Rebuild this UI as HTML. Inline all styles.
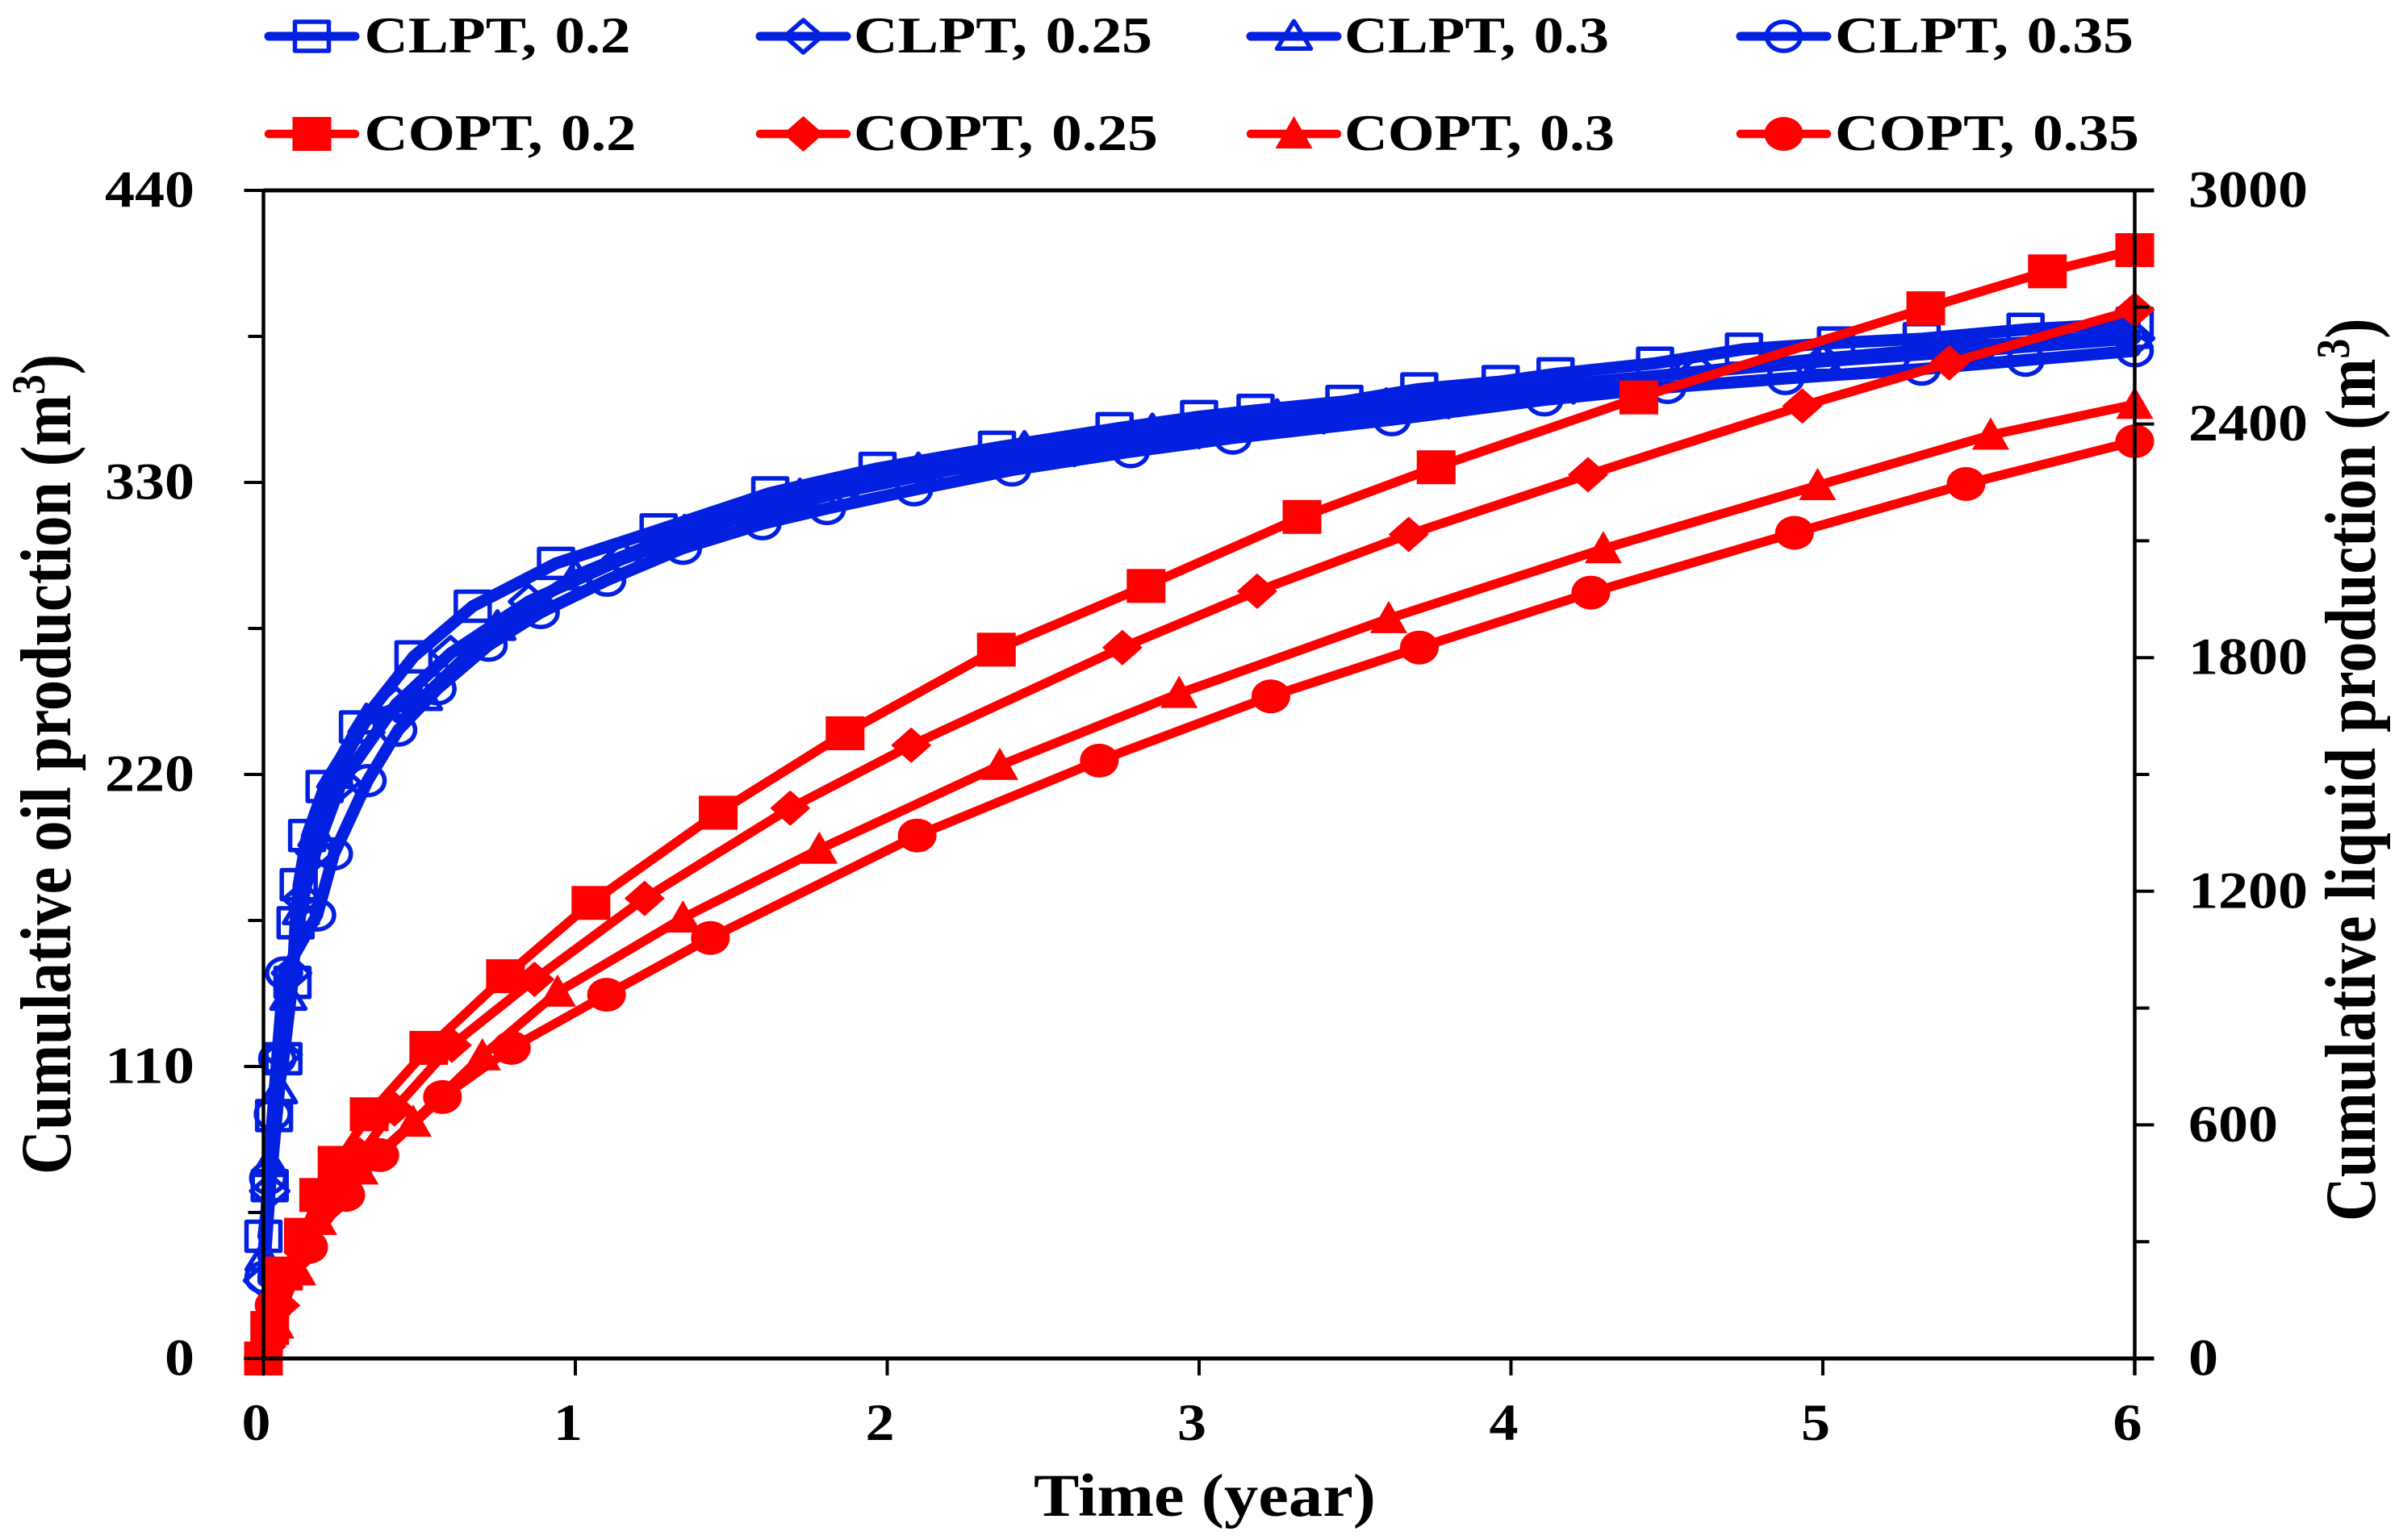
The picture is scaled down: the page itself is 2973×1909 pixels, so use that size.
<!DOCTYPE html>
<html lang="en">
<head>
<meta charset="utf-8">
<title>Cumulative production chart</title>
<style>
html,body{margin:0;padding:0;background:#fff;}
svg{display:block;}
text{font-family:"Liberation Serif",serif;font-weight:bold;fill:#000;}
#legend-layer text{word-spacing:3px;}
</style>
</head>
<body>
<svg id="chart" xmlns="http://www.w3.org/2000/svg" width="2973" height="1909" viewBox="0 0 2973 1909">
  <rect x="0" y="0" width="2973" height="1909" fill="#fff"/>
  <g id="series-layer"></g>
  <g id="axis-layer"></g>
  <g id="legend-layer">
    <text x="451.5" y="65" font-size="63" textLength="330" lengthAdjust="spacingAndGlyphs">CLPT, 0.2</text>
    <text x="1058" y="65" font-size="63" textLength="370" lengthAdjust="spacingAndGlyphs">CLPT, 0.25</text>
    <text x="1666" y="65" font-size="63" textLength="328" lengthAdjust="spacingAndGlyphs">CLPT, 0.3</text>
    <text x="2274" y="65" font-size="63" textLength="370" lengthAdjust="spacingAndGlyphs">CLPT, 0.35</text>
    <text x="451.5" y="186" font-size="63" textLength="337" lengthAdjust="spacingAndGlyphs">COPT, 0.2</text>
    <text x="1058" y="186" font-size="63" textLength="377" lengthAdjust="spacingAndGlyphs">COPT, 0.25</text>
    <text x="1666" y="186" font-size="63" textLength="335" lengthAdjust="spacingAndGlyphs">COPT, 0.3</text>
    <text x="2274" y="186" font-size="63" textLength="377" lengthAdjust="spacingAndGlyphs">COPT, 0.35</text>
  </g>
  <text x="1281" y="1879" font-size="75" textLength="424" lengthAdjust="spacingAndGlyphs">Time (year)</text>
  <text transform="translate(87,1456) rotate(-90) scale(0.857,1)" font-size="89">Cumulative oil production (m<tspan font-size="58" dy="-32">3</tspan><tspan dy="32">)</tspan></text>
  <text transform="translate(2943,1514) rotate(-90) scale(0.851,1)" font-size="89">Cumulative liquid production (m<tspan font-size="58" dy="-32">3</tspan><tspan dy="32">)</tspan></text>
</svg>
<script>
// ---- tick labels ----
const xTickLabels = ["0", "1", "2", "3", "4", "5", "6"];
const leftTickLabels = ["0", "110", "220", "330", "440"];
const rightTickLabels = ["0", "600", "1200", "1800", "2400", "3000"];
const leftMinorTicks = [55, 165, 275, 385];
const rightMinorTicks = [300, 900, 1500, 2100, 2700];

// ---- cumulative liquid production (right axis) ----
const clpt020Years = [0, 0.02, 0.034, 0.064, 0.093, 0.103, 0.113, 0.14, 0.196, 0.303, 0.481, 0.671, 0.938, 1.267, 1.625, 1.969, 2.352, 2.729, 3.0, 3.181, 3.466, 3.706, 3.967, 4.143, 4.462, 4.747, 5.042, 5.317, 5.65, 6];
const clpt020Values = [314, 444, 624, 770, 966, 1119, 1217, 1343, 1469, 1622, 1802, 1932, 2042, 2128, 2223, 2286, 2340, 2388, 2419, 2435, 2458, 2490, 2509, 2529, 2556, 2592, 2608, 2619, 2643, 2659];
const clpt025Years = [0, 0.02, 0.06, 0.09, 0.125, 0.167, 0.25, 0.425, 0.6, 0.85, 1.15, 1.5, 1.85, 2.2, 2.6, 3.0, 3.4, 3.8, 4.2, 4.6, 5.0, 5.5, 6];
const clpt025Values = [200, 430, 780, 990, 1180, 1300, 1480, 1680, 1811, 1944, 2053, 2152, 2225, 2282, 2336, 2382, 2420, 2459, 2497, 2534, 2561, 2589, 2620];
const clpt030Years = [0, 0.02, 0.05, 0.08, 0.12, 0.17, 0.23, 0.33, 0.515, 0.75, 1.0, 1.35, 1.72, 2.1, 2.44, 2.85, 3.25, 3.6, 4.13, 4.55, 5.0, 5.45, 6];
const clpt030Values = [260, 503, 690, 930, 1150, 1350, 1500, 1640, 1700, 1880, 2010, 2125, 2218, 2285, 2340, 2385, 2422, 2450, 2498, 2530, 2568, 2598, 2630];
const clpt035Years = [0, 0.015, 0.03, 0.044, 0.066, 0.172, 0.226, 0.334, 0.432, 0.558, 0.722, 0.889, 1.102, 1.345, 1.6, 1.807, 2.086, 2.4, 2.781, 3.108, 3.618, 4.107, 4.502, 4.88, 5.317, 5.65, 6];
const clpt035Values = [208, 463, 628, 770, 990, 1139, 1296, 1484, 1614, 1720, 1832, 1916, 1999, 2081, 2144, 2183, 2231, 2282, 2329, 2364, 2411, 2462, 2494, 2517, 2541, 2564, 2588];

// ---- cumulative oil production (left axis) ----
const copt020Years = [0, 0.02, 0.064, 0.128, 0.177, 0.236, 0.339, 0.53, 0.776, 1.05, 1.458, 1.865, 2.35, 2.83, 3.33, 3.76, 4.41, 5.33, 5.72, 6];
const copt020Values = [0, 11.5, 32, 46.6, 61.6, 73.7, 92, 117, 144, 171.6, 205.6, 235.5, 267, 291, 317, 335.7, 362, 395.6, 409.5, 417.5];
const copt025Years = [0, 0.01, 0.054, 0.128, 0.21, 0.31, 0.42, 0.604, 0.869, 1.222, 1.689, 2.077, 2.754, 3.186, 3.672, 4.247, 4.934, 5.405, 6];
const copt025Values = [0, 4.6, 20, 40, 57.6, 76.6, 94, 118, 142.8, 173.3, 207.3, 231, 267.8, 289, 310.4, 332.9, 358.8, 375, 395];
const copt030Years = [0, 0.04, 0.11, 0.177, 0.31, 0.48, 0.702, 0.943, 1.345, 1.782, 2.361, 2.936, 3.608, 4.296, 4.983, 5.538, 6];
const copt030Values = [0, 13, 33, 52, 71, 89, 114, 138, 165.9, 191.8, 223.4, 250.5, 278.7, 305, 328.8, 347.8, 359.4];
const copt035Years = [0, 0.034, 0.145, 0.264, 0.373, 0.574, 0.795, 1.1, 1.433, 2.096, 2.68, 3.23, 3.706, 4.256, 4.909, 5.459, 6];
const copt035Values = [0, 20, 42, 61.6, 76.6, 98.5, 117, 137, 158.4, 197, 225.2, 249.4, 267.8, 288.5, 311, 329.4, 345.5];

// ---- axis functions ----
const plotLeft = 326.5, plotRight = 2645.5, plotTop = 236, plotBottom = 1684;
const xMax = 6, leftMax = 440, rightMax = 3000;
function xScale(v) { return plotLeft + (v / xMax) * (plotRight - plotLeft); }
function yLeft(v) { return plotBottom - (v / leftMax) * (plotBottom - plotTop); }
function yRight(v) { return plotBottom - (v / rightMax) * (plotBottom - plotTop); }

const NS = "http://www.w3.org/2000/svg";
const BLUE = "#0320e0", RED = "#ff0000";
const seriesLayer = document.getElementById("series-layer");
const axisLayer = document.getElementById("axis-layer");
const legendLayer = document.getElementById("legend-layer");

function make(tag, parent) {
  const el = document.createElementNS(NS, tag);
  parent.appendChild(el);
  return el;
}

function markerShape(kind, cx, cy, w, h, color, filled, parent) {
  let el;
  if (kind === "square") {
    el = make("rect", parent);
    el.setAttribute("x", cx - w / 2);
    el.setAttribute("y", cy - h / 2);
    el.setAttribute("width", w);
    el.setAttribute("height", h);
  } else if (kind === "circle") {
    el = make("ellipse", parent);
    el.setAttribute("cx", cx);
    el.setAttribute("cy", cy);
    el.setAttribute("rx", w / 2);
    el.setAttribute("ry", h / 2);
  } else if (kind === "diamond") {
    el = make("polygon", parent);
    el.setAttribute("points", [[cx, cy - h / 2], [cx + w / 2, cy], [cx, cy + h / 2], [cx - w / 2, cy]].join(" "));
  } else {
    el = make("polygon", parent);
    el.setAttribute("points", [[cx, cy - h * 0.55], [cx + w / 2, cy + h * 0.45], [cx - w / 2, cy + h * 0.45]].join(" "));
  }
  if (filled) {
    el.setAttribute("fill", color);
  } else {
    el.setAttribute("fill", "none");
    el.setAttribute("stroke", color);
    el.setAttribute("stroke-width", "5.5");
    el.setAttribute("stroke-linejoin", "round");
  }
  return el;
}

const sizes = {
  square: { filled: [48, 42], open: [42, 36] },
  diamond: { filled: [50, 44], open: [46, 40] },
  triangle: { filled: [46, 40], open: [42, 34] },
  circle: { filled: [48, 42], open: [42, 36] }
};

function drawSeries(name, years, values, yFn, kind, color, filled) {
  const g = make("g", seriesLayer);
  
  
  const line = make("polyline", g);
  
  
  line.setAttribute("points", years.map(function (t, i) { return xScale(t).toFixed(1) + "," + yFn(values[i]).toFixed(1); }).join(" "));
  line.setAttribute("fill", "none");
  line.setAttribute("stroke", color);
  line.setAttribute("stroke-width", filled ? "11.5" : "15");
  line.setAttribute("stroke-linejoin", "round");
  line.setAttribute("stroke-linecap", "round");
  const s = filled ? sizes[kind].filled : sizes[kind].open;
  years.forEach(function (t, i) {
    const m = markerShape(kind, xScale(t), yFn(values[i]), s[0], s[1], color, filled, g);
    
    
  });
}

drawSeries("series-clpt-0.2", clpt020Years, clpt020Values, yRight, "square", BLUE, false);
drawSeries("series-clpt-0.25", clpt025Years, clpt025Values, yRight, "diamond", BLUE, false);
drawSeries("series-clpt-0.3", clpt030Years, clpt030Values, yRight, "triangle", BLUE, false);
drawSeries("series-clpt-0.35", clpt035Years, clpt035Values, yRight, "circle", BLUE, false);
drawSeries("series-copt-0.2", copt020Years, copt020Values, yLeft, "square", RED, true);
drawSeries("series-copt-0.25", copt025Years, copt025Values, yLeft, "diamond", RED, true);
drawSeries("series-copt-0.3", copt030Years, copt030Values, yLeft, "triangle", RED, true);
drawSeries("series-copt-0.35", copt035Years, copt035Values, yLeft, "circle", RED, true);

// ---- axes ----
function axisLine(x1, y1, x2, y2, w, name) {
  const l = make("line", axisLayer);
  
  
  l.setAttribute("x1", x1);
  l.setAttribute("y1", y1);
  l.setAttribute("x2", x2);
  l.setAttribute("y2", y2);
  l.setAttribute("stroke", "#000");
  l.setAttribute("stroke-width", w);
}
function tickText(str, x, y, anchor, w, name) {
  const t = make("text", axisLayer);
  
  
  t.setAttribute("x", x);
  t.setAttribute("y", y);
  t.setAttribute("font-size", "65");
  t.setAttribute("text-anchor", anchor);
  t.setAttribute("textLength", w);
  t.setAttribute("lengthAdjust", "spacingAndGlyphs");
  t.textContent = str;
}

axisLine(plotLeft, plotTop, plotLeft, plotBottom, 4.5, "left-y-axis");
axisLine(plotRight, plotTop, plotRight, plotBottom + 20, 4.5, "right-y-axis");
axisLine(plotLeft, plotTop, plotRight + 24, plotTop, 5, "top-axis");
axisLine(plotLeft, plotBottom, plotRight + 24, plotBottom, 5, "x-axis");

xTickLabels.forEach(function (lab) {
  const v = Number(lab);
  axisLine(xScale(v), plotBottom, xScale(v), plotBottom + 21, 4, "x-tick");
  tickText(lab, xScale(v) - 9, 1785, "middle", 36, "x-tick-label");
});
leftTickLabels.forEach(function (lab) {
  const v = Number(lab);
  axisLine(plotLeft - 24, yLeft(v), plotLeft, yLeft(v), 4, "left-y-tick");
  tickText(lab, 241, yLeft(v) + 20.5, "end", 37 * lab.length, "left-y-tick-label");
});
leftMinorTicks.forEach(function (v) {
  axisLine(plotLeft - 19, yLeft(v), plotLeft, yLeft(v), 4, "left-y-minor-tick");
});
rightTickLabels.forEach(function (lab) {
  const v = Number(lab);
  axisLine(plotRight, yRight(v), plotRight + 24, yRight(v), 4, "right-y-tick");
  tickText(lab, 2712, yRight(v) + 20.5, "start", 37 * lab.length, "right-y-tick-label");
});
rightMinorTicks.forEach(function (v) {
  axisLine(plotRight, yRight(v), plotRight + 18, yRight(v), 4, "right-y-minor-tick");
});

// ---- legend keys ----
const legendColumns = [328, 937, 1545, 2152];
const legendKinds = ["square", "diamond", "triangle", "circle"];
legendColumns.forEach(function (x0, i) {
  const kind = legendKinds[i];
  const blueKey = make("g", legendLayer);
  
  
  const bl = make("line", blueKey);
  bl.setAttribute("x1", x0 + 5);
  bl.setAttribute("x2", x0 + 112);
  bl.setAttribute("y1", 45);
  bl.setAttribute("y2", 45);
  bl.setAttribute("stroke", BLUE);
  bl.setAttribute("stroke-width", "11");
  bl.setAttribute("stroke-linecap", "round");
  markerShape(kind, x0 + 58.5, 45, sizes[kind].open[0], sizes[kind].open[1], BLUE, false, blueKey);

  const redKey = make("g", legendLayer);
  
  
  const rl = make("line", redKey);
  rl.setAttribute("x1", x0 + 5);
  rl.setAttribute("x2", x0 + 112);
  rl.setAttribute("y1", 166);
  rl.setAttribute("y2", 166);
  rl.setAttribute("stroke", RED);
  rl.setAttribute("stroke-width", "10.5");
  rl.setAttribute("stroke-linecap", "round");
  markerShape(kind, x0 + 58.5, 166, sizes[kind].filled[0], sizes[kind].filled[1], RED, true, redKey);
});
</script>
</body>
</html>
